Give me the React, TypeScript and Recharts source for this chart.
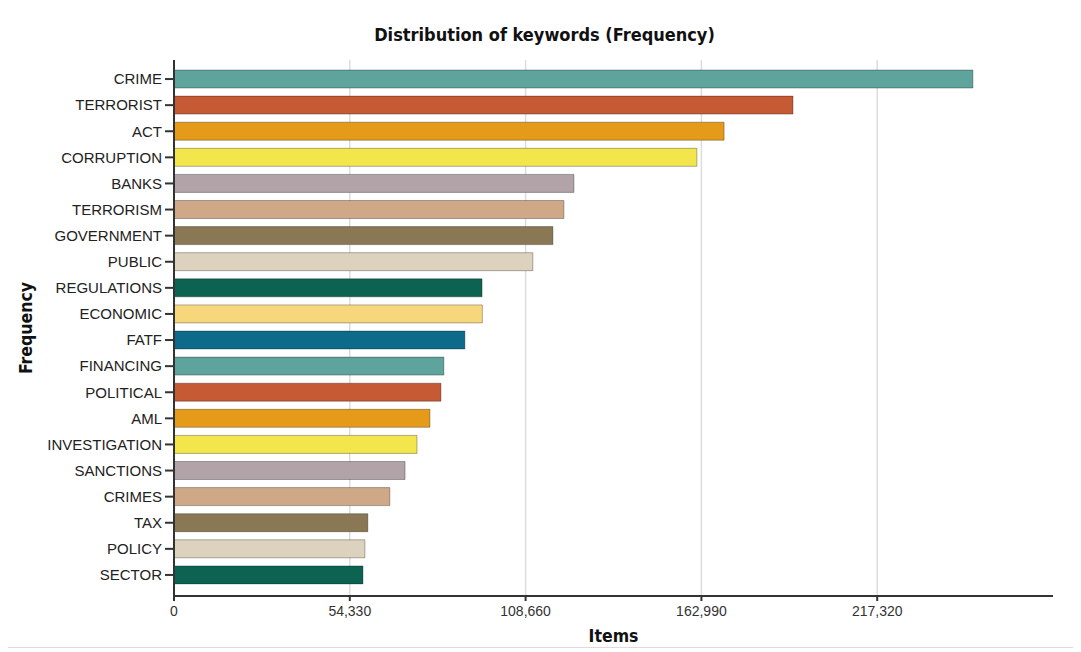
import React from 'react';
import { BarChart, Bar, XAxis, YAxis, CartesianGrid, Cell, Label } from 'recharts';

const keywords = [
    'CRIME', 'TERRORIST', 'ACT', 'CORRUPTION', 'BANKS', 'TERRORISM', 'GOVERNMENT',
    'PUBLIC', 'REGULATIONS', 'ECONOMIC', 'FATF', 'FINANCING', 'POLITICAL', 'AML',
    'INVESTIGATION', 'SANCTIONS', 'CRIMES', 'TAX', 'POLICY', 'SECTOR',
];

const counts = [
    246900, 191300, 170000, 161600, 123600, 120500, 117100, 110900, 95200, 95300,
    89900, 83400, 82500, 79100, 75100, 71400, 66700, 59900, 59000, 58400,
];

const palette = [
    '#5fa39d', '#c55a35', '#e59a1a', '#f2e64c', '#b2a3a8', '#cfa888',
    '#8a7753', '#dcd2bd', '#0c6351', '#f7d77c', '#0d6a8a',
];

const xTicks = [0, 54330, 108660, 162990, 217320];

const data = keywords.map((k, i) => ({ name: k, value: counts[i] }));

const boldFont = '"DejaVu Sans Condensed", "DejaVu Sans", sans-serif';
const tickFont = '"Liberation Sans", Arial, sans-serif';

const App = () => {
    return (
        <div style={{ position: 'relative', width: 1073, height: 644 }}>
            <div
                style={{
                    position: 'absolute',
                    top: 16,
                    left: 0,
                    width: 1073,
                    textAlign: 'center',
                    fontFamily: boldFont,
                    fontWeight: 'bold',
                    fontSize: 18,
                    color: '#111',
                }}
            >
                Distribution of keywords (Frequency)
            </div>
            <BarChart
                width={1073}
                height={644}
                data={data}
                layout="vertical"
                margin={{ top: 52, right: 28, bottom: 6, left: 0 }}
            >
                <CartesianGrid
                    horizontal={false}
                    verticalValues={xTicks}
                    stroke="#dddddd"
                    strokeWidth={1.5}
                />
                <XAxis
                    type="number"
                    domain={[0, 271650]}
                    ticks={xTicks}
                    tickFormatter={(v: number) => v.toLocaleString('en-US')}
                    stroke="#333"
                    strokeWidth={2}
                    height={50}
                    tickSize={5}
                    tick={{ fill: '#333', fontSize: 14, fontFamily: tickFont }}
                    tickMargin={5}
                >
                    <Label
                        value="Items"
                        position="insideBottom"
                        offset={4}
                        style={{
                            fontFamily: boldFont,
                            fontWeight: 'bold',
                            fontSize: 17.5,
                            fill: '#111',
                        }}
                    />
                </XAxis>
                <YAxis
                    type="category"
                    dataKey="name"
                    width={166}
                    padding={{ top: 6, bottom: 8 }}
                    stroke="#333"
                    strokeWidth={2}
                    tickSize={9}
                    tickMargin={3}
                    interval={0}
                    tick={{ fill: '#222', fontSize: 15, fontFamily: tickFont }}
                >
                    <Label
                        value="Frequency"
                        angle={-90}
                        position="insideLeft"
                        offset={18}
                        style={{
                            textAnchor: 'middle',
                            fontFamily: boldFont,
                            fontWeight: 'bold',
                            fontSize: 17.5,
                            fill: '#111',
                        }}
                    />
                </YAxis>
                <Bar dataKey="value" barSize={18} isAnimationActive={false} stroke="rgba(0,0,0,0.3)" strokeWidth={1}>
                    {data.map((d, i) => (
                        <Cell key={d.name} fill={palette[i % palette.length]} />
                    ))}
                </Bar>
            </BarChart>
            <div
                style={{
                    position: 'absolute',
                    left: -8,
                    top: 639,
                    width: 1081,
                    borderTop: '1px solid #dcdcdc',
                }}
            />
        </div>
    );
};

export default App;
